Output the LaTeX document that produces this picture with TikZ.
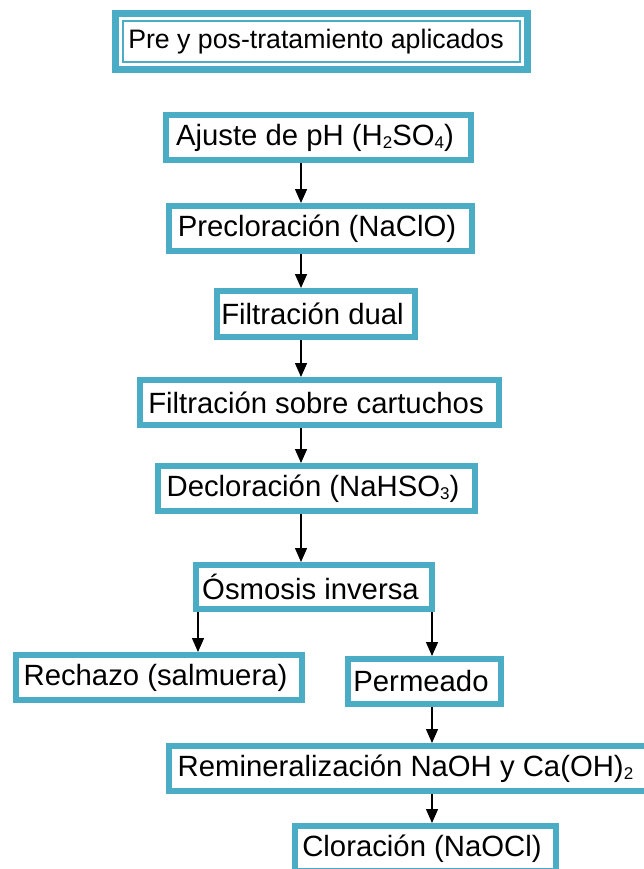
\documentclass[tikz,border=0pt]{standalone}
\usepackage{fontspec}
\setmainfont{Liberation Sans}
\usetikzlibrary{arrows.meta,calc}
\definecolor{boxteal}{RGB}{75,172,198}
\newcommand{\chemsub}[1]{\raisebox{-3.5pt}{\fontsize{17}{17}\selectfont #1}}
\begin{document}
\begin{tikzpicture}[x=1pt,y=-1pt,
  stepbox/.style={draw=boxteal, line width=6pt, fill=white, inner sep=0pt,
    font=\fontsize{29.3}{34}\selectfont, text=black,
    execute at end node={\hspace*{7pt}}},
  titlebox/.style={draw=boxteal, line width=7pt, fill=white, inner sep=0pt,
    font=\fontsize{26.7}{32}\selectfont, text=black,
    execute at end node={\hspace*{11pt}}},
  arr/.style={line width=1.4pt, black, -{Triangle[width=12pt,length=14pt]}}
]
\path[use as bounding box, fill=white] (0,0) rectangle (644,869);
\clip (0,0) rectangle (644,869);

\node[titlebox, minimum width=412pt, minimum height=56pt] (title) at (321.5,41.5) {Pre y pos-tratamiento aplicados};
\draw[boxteal, line width=2pt] ($(title.north west)+(11pt,-11pt)$) rectangle ($(title.south east)+(-11pt,11pt)$);

\node[stepbox, minimum width=305pt, minimum height=45pt] (ajuste) at (318.5,137.5) {Ajuste de pH (H\chemsub{2}SO\chemsub{4})};
\node[stepbox, minimum width=303pt, minimum height=45pt] (precl) at (320.5,228.5) {Precloración (NaClO)};
\node[stepbox, minimum width=198pt, minimum height=46pt] (fdual) at (316,314) {Filtración dual};
\node[stepbox, minimum width=359pt, minimum height=45pt] (fcart) at (319.5,402.5) {Filtración sobre cartuchos};
\node[stepbox, minimum width=317pt, minimum height=45pt] (decl) at (316.5,488.5) {Decloración (NaHSO\chemsub{3})};
\node[stepbox, minimum width=236pt, minimum height=44pt] (osm) at (314,587) {Ósmosis inversa};
\node[stepbox, minimum width=286pt, minimum height=45pt] (rech) at (159,677.5) {Rechazo (salmuera)};
\node[stepbox, minimum width=153pt, minimum height=45pt] (perm) at (424.5,681.5) {Permeado};
\node[stepbox, minimum width=480pt, minimum height=45pt] (remin) at (409,768.5) {Remineralización NaOH y Ca(OH)\chemsub{2}};
\node[stepbox, minimum width=261pt, minimum height=45pt] (clor) at (425.5,848.5) {Cloración (NaOCl)};

\coordinate (colA) at (301,0);
\coordinate (colL) at (198,0);
\coordinate (colR) at (432,0);

\draw[arr] (ajuste.south -| colA) -- (precl.north -| colA);
\draw[arr] (precl.south -| colA) -- (fdual.north -| colA);
\draw[arr] (fdual.south -| colA) -- (fcart.north -| colA);
\draw[arr] (fcart.south -| colA) -- (decl.north -| colA);
\draw[arr] (decl.south -| colA) -- (osm.north -| colA);
\draw[arr] (osm.south -| colL) -- (rech.north -| colL);
\draw[arr] (osm.south -| colR) -- (perm.north -| colR);
\draw[arr] (perm.south -| colR) -- (remin.north -| colR);
\draw[arr] (remin.south -| colR) -- (clor.north -| colR);
\end{tikzpicture}
\end{document}
